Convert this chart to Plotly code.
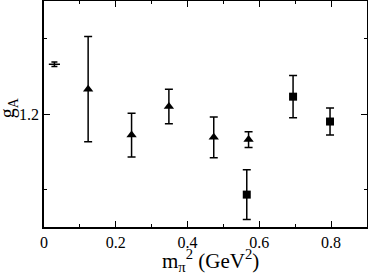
import plotly.graph_objects as go

# pion mass squared (GeV^2), g_A values and errors
tri_x = [0.123, 0.244, 0.348, 0.473, 0.570]
tri_y = [1.233, 1.172, 1.210, 1.169, 1.166]
tri_err = [0.070, 0.029, 0.023, 0.027, 0.0105]

sq_x = [0.565, 0.694, 0.797]
sq_y = [1.093, 1.223, 1.190]
sq_err = [0.033, 0.028, 0.018]

phys_x = [0.029]
phys_y = [1.266]
phys_err = [0.003]

font = "Liberation Serif, Times New Roman, serif"

fig = go.Figure()
fig.add_trace(go.Scatter(
    x=phys_x, y=phys_y, mode="markers",
    marker=dict(symbol="line-ew", size=8, color="black", line=dict(width=1.5, color="black")),
    error_y=dict(type="data", array=phys_err, color="black", thickness=1.5, width=3),
))
fig.add_trace(go.Scatter(
    x=tri_x, y=tri_y, mode="markers",
    marker=dict(symbol="triangle-up", size=9, color="black"),
    error_y=dict(type="data", array=tri_err, color="black", thickness=1.5, width=4),
))
fig.add_trace(go.Scatter(
    x=sq_x, y=sq_y, mode="markers",
    marker=dict(symbol="square", size=8, color="black"),
    error_y=dict(type="data", array=sq_err, color="black", thickness=1.5, width=4),
))

axis_common = dict(
    showline=True, linecolor="black", linewidth=1.5, mirror="ticks",
    ticks="inside", ticklen=6, tickwidth=1, tickcolor="black",
    showgrid=False, zeroline=False, automargin=False,
    tickfont=dict(family=font, size=16, color="black"),
)

fig.update_xaxes(
    range=[0, 0.9], dtick=0.2, tick0=0,
    minor=dict(dtick=0.1, ticks="inside", ticklen=3, tickcolor="black"),
    **axis_common,
)
fig.update_yaxes(
    range=[1.05, 1.35], dtick=0.2, tick0=1.0, tickformat=".1f",
    minor=dict(dtick=0.1, ticks="inside", ticklen=3, tickcolor="black"),
    **axis_common,
)

fig.add_annotation(
    text="m<sub>π</sub><sup>2</sup> (GeV<sup>2</sup>)", xref="paper", yref="paper",
    x=0.514, y=-0.15, showarrow=False, xanchor="center", yanchor="middle",
    font=dict(family=font, size=21, color="black"),
)
fig.add_annotation(
    text="g<sub>A</sub>", xref="paper", yref="paper", textangle=-90,
    x=-0.11, y=0.527, showarrow=False, xanchor="center", yanchor="middle",
    font=dict(family=font, size=20, color="black"),
)

fig.update_layout(
    width=368, height=276,
    margin=dict(l=44, r=1, t=1, b=49),
    plot_bgcolor="white", paper_bgcolor="white",
    showlegend=False,
)

fig.write_html("out.html", config={"displayModeBar": False},
               post_script="document.body.style.margin = '0';")
